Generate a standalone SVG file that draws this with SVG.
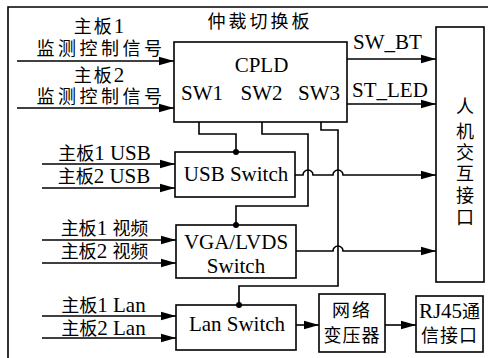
<svg xmlns="http://www.w3.org/2000/svg" width="488" height="358" viewBox="0 0 488 358">
  <style>
    .box { fill: #fff; stroke: #000; stroke-width: 1.6; }
    .ln { fill: none; stroke: #000; stroke-width: 1.6; }
    .t { font-family: "Liberation Serif", "Noto Sans CJK SC", serif; font-size: 21px; fill: #000; }
    .cn { font-family: "Liberation Serif", "Noto Sans CJK SC", serif; font-size: 18px; fill: #000; }
    .m { text-anchor: middle; }
    .dot { fill: #000; }
  </style>
  <defs>
    <marker id="arr" markerUnits="userSpaceOnUse" markerWidth="16" markerHeight="10" refX="15" refY="5" orient="auto">
      <path d="M0,0.8 L15,5 L0,9.2 Z" fill="#000"/>
    </marker>
  </defs>

  <rect width="488" height="358" fill="#fff"/>
  <!-- board outline (top and left edges) -->
  <path class="ln" d="M8 358 V7 H488"/>
  <text class="cn m" x="260" y="28" style="letter-spacing:3px">仲裁切换板</text>

  <!-- CPLD -->
  <g id="cpld">
    <rect class="box" x="174" y="42" width="173" height="80"/>
    <text class="t m" x="261.5" y="72">CPLD</text>
    <text class="t m" x="202" y="100">SW1</text>
    <text class="t m" x="261.5" y="100">SW2</text>
    <text class="t m" x="319" y="100">SW3</text>
  </g>

  <!-- human-machine interface -->
  <g id="hmi">
    <rect class="box" x="436" y="27" width="48" height="255"/>
    <text class="cn m" x="465" y="113">人</text>
    <text class="cn m" x="465" y="138">机</text>
    <text class="cn m" x="465" y="159">交</text>
    <text class="cn m" x="465" y="180">互</text>
    <text class="cn m" x="465" y="202">接</text>
    <text class="cn m" x="465" y="224">口</text>
  </g>

  <g id="usb">
    <rect class="box" x="175" y="152" width="120" height="45"/>
    <text class="t m" x="236" y="181">USB Switch</text>
  </g>

  <g id="vga">
    <rect class="box" x="176" y="225" width="120" height="53"/>
    <text class="t m" x="236" y="249">VGA/LVDS</text>
    <text class="t m" x="236" y="273">Switch</text>
  </g>

  <g id="lan">
    <rect class="box" x="176" y="305" width="120" height="45"/>
    <text class="t m" x="237" y="331">Lan Switch</text>
  </g>

  <g id="transformer">
    <rect class="box" x="319" y="294" width="66" height="58"/>
    <text class="cn m" x="352" y="317" style="letter-spacing:2px">网络</text>
    <text class="cn m" x="352" y="342" style="letter-spacing:1px">变压器</text>
  </g>

  <g id="rj45">
    <rect class="box" x="416" y="296" width="67" height="56"/>
    <text class="t m" x="449.5" y="318">RJ45<tspan class="cn">通</tspan></text>
    <text class="cn m" x="449.5" y="342" style="letter-spacing:1px">信接口</text>
  </g>

  <!-- input labels -->
  <g id="labels">
    <text class="cn m" x="100" y="33" style="letter-spacing:2px">主板<tspan class="t">1</tspan></text>
    <text class="cn m" x="101" y="55" style="letter-spacing:3.5px">监测控制信号</text>
    <text class="cn m" x="100" y="82" style="letter-spacing:2px">主板<tspan class="t">2</tspan></text>
    <text class="cn m" x="101" y="103" style="letter-spacing:3.5px">监测控制信号</text>
    <text class="t m" x="104.5" y="160"><tspan class="cn">主板</tspan>1 USB</text>
    <text class="t m" x="104" y="183"><tspan class="cn">主板</tspan>2 USB</text>
    <text class="t m" x="104.5" y="235"><tspan class="cn">主板</tspan>1 <tspan class="cn">视频</tspan></text>
    <text class="t m" x="104.5" y="258"><tspan class="cn">主板</tspan>2 <tspan class="cn">视频</tspan></text>
    <text class="t m" x="103.5" y="312"><tspan class="cn">主板</tspan>1 Lan</text>
    <text class="t m" x="103.5" y="335"><tspan class="cn">主板</tspan>2 Lan</text>
    <text class="t" x="353" y="49">SW_BT</text>
    <text class="t" x="352" y="97">ST_LED</text>
  </g>

  <!-- connectors -->
  <g id="connectors">
    <path class="ln" marker-end="url(#arr)" d="M17 61 H174"/>
    <path class="ln" marker-end="url(#arr)" d="M17 108 H174"/>
    <path class="ln" marker-end="url(#arr)" d="M347 59 H436"/>
    <path class="ln" marker-end="url(#arr)" d="M347 104 H436"/>

    <path class="ln" marker-end="url(#arr)" d="M42 164 H175"/>
    <path class="ln" marker-end="url(#arr)" d="M42 188 H175"/>
    <path class="ln" marker-end="url(#arr)" d="M42 240 H176"/>
    <path class="ln" marker-end="url(#arr)" d="M42 263 H176"/>
    <path class="ln" marker-end="url(#arr)" d="M42 316 H176"/>
    <path class="ln" marker-end="url(#arr)" d="M42 338 H176"/>

    <!-- switch control lines -->
    <path class="ln" d="M199 122 V134 H236 V152"/>
    <path class="ln" d="M262 122 V134 H308 V206 H236 V225"/>
    <path class="ln" d="M321 122 V130 H338 V286 H239 V305"/>
    <circle class="dot" cx="236" cy="152" r="3"/>
    <circle class="dot" cx="236" cy="225" r="3"/>
    <circle class="dot" cx="239" cy="305" r="3"/>

    <!-- outputs with hop-overs -->
    <path class="ln" marker-end="url(#arr)" d="M295 175 H303 A5 5 0 0 1 313 175 H333 A5 5 0 0 1 343 175 H436"/>
    <path class="ln" marker-end="url(#arr)" d="M296 251 H333 A5 5 0 0 1 343 251 H436"/>
    <path class="ln" marker-end="url(#arr)" d="M296 325 H319"/>
    <path class="ln" marker-end="url(#arr)" d="M385 325 H416"/>
  </g>
</svg>
